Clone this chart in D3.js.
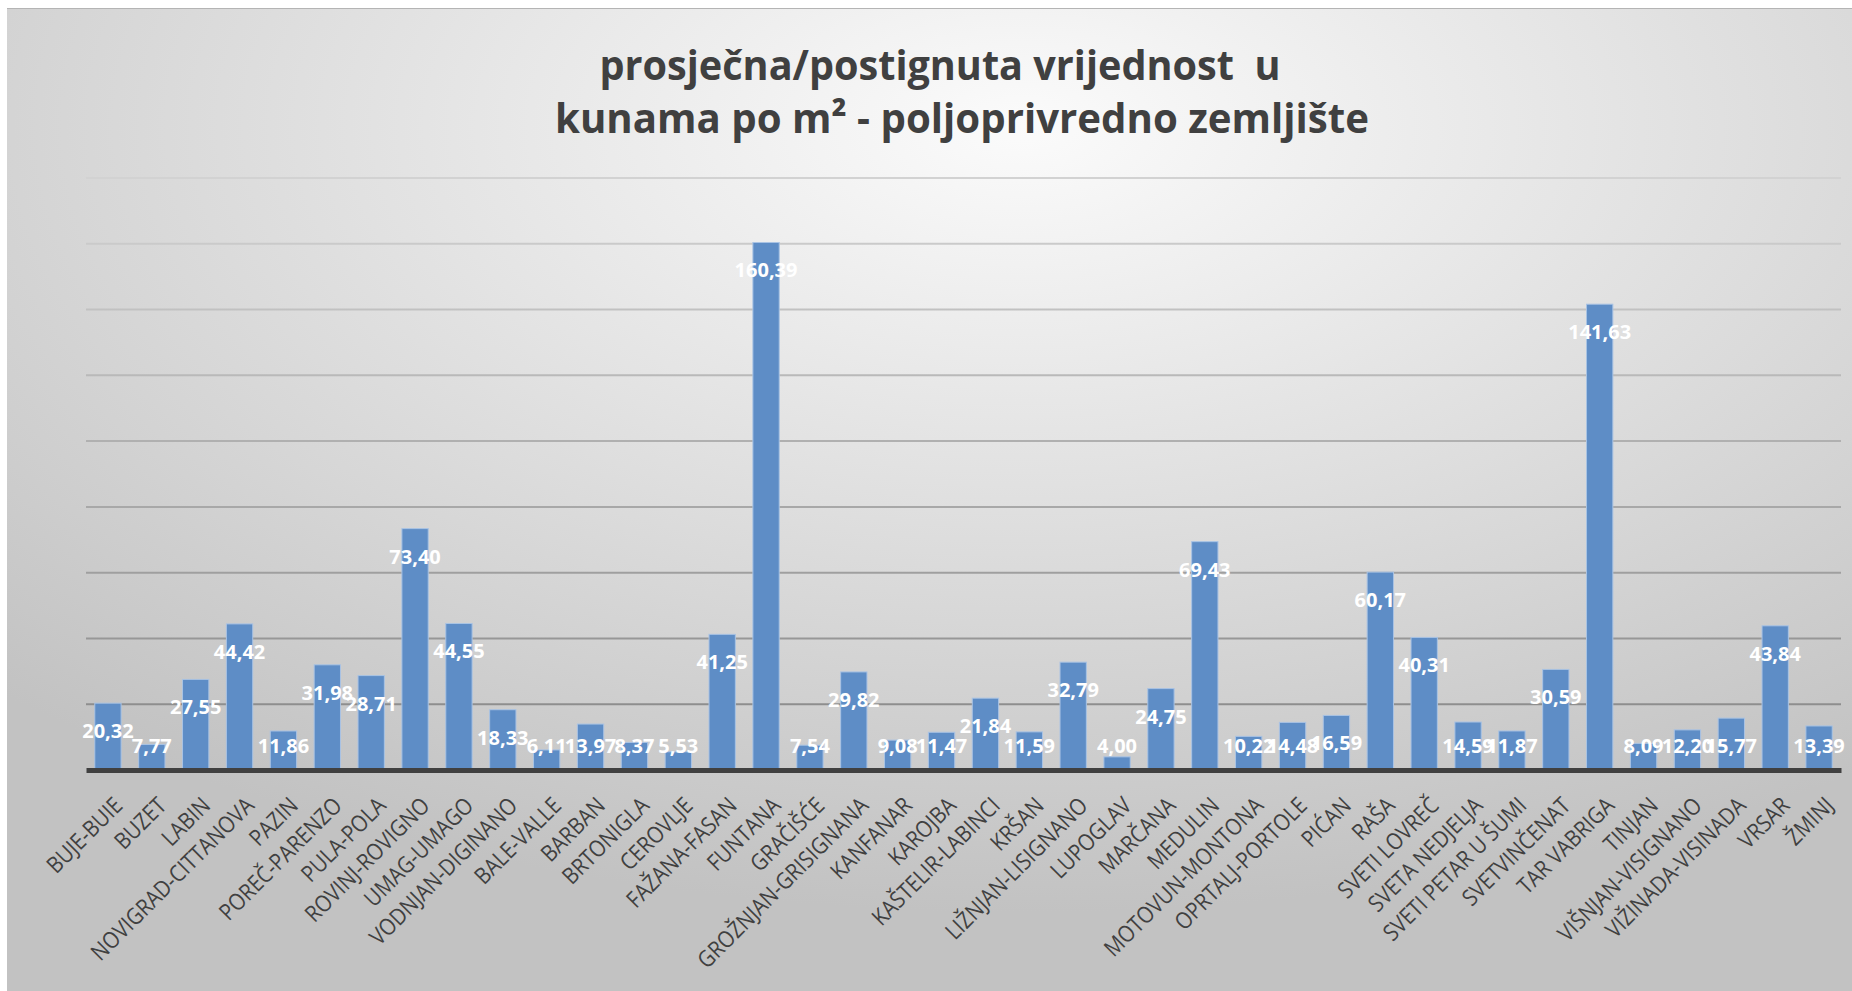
<!DOCTYPE html>
<html>
<head>
<meta charset="utf-8">
<script src="https://cdn.jsdelivr.net/npm/d3@7"></script>
<style>
  body { margin: 0; background: #fff; }
  svg { display: block; }
</style>
</head>
<body>
<div id="chart"></div>
<script>
// chart data
const municipalities = [
    "BUJE-BUIE", "BUZET", "LABIN", "NOVIGRAD-CITTANOVA", "PAZIN", "POREČ-PARENZO",
    "PULA-POLA", "ROVINJ-ROVIGNO", "UMAG-UMAGO", "VODNJAN-DIGINANO", "BALE-VALLE",
    "BARBAN", "BRTONIGLA", "CEROVLJE", "FAŽANA-FASAN", "FUNTANA", "GRAČIŠĆE",
    "GROŽNJAN-GRISIGNANA", "KANFANAR", "KAROJBA", "KAŠTELIR-LABINCI", "KRŠAN",
    "LIŽNJAN-LISIGNANO", "LUPOGLAV", "MARČANA", "MEDULIN", "MOTOVUN-MONTONA",
    "OPRTALJ-PORTOLE", "PIĆAN", "RAŠA", "SVETI LOVREČ", "SVETA NEDJELJA",
    "SVETI PETAR U ŠUMI", "SVETVINČENAT", "TAR VABRIGA", "TINJAN",
    "VIŠNJAN-VISIGNANO", "VIŽINADA-VISINADA", "VRSAR", "ŽMINJ"
];
const pricePerM2 = [
    20.32, 7.77, 27.55, 44.42, 11.86, 31.98,
    28.71, 73.40, 44.55, 18.33, 6.11,
    13.97, 8.37, 5.53, 41.25, 160.39, 7.54,
    29.82, 9.08, 11.47, 21.84, 11.59,
    32.79, 4.00, 24.75, 69.43, 10.22,
    14.48, 16.59, 60.17, 40.31, 14.59,
    11.87, 30.59, 141.63, 8.09,
    12.20, 15.77, 43.84, 13.39
];
const gridTicks = [0, 20, 40, 60, 80, 100, 120, 140, 160, 180];
const titleLines = ["prosječna/postignuta vrijednost  u", "kunama po m² - poljoprivredno zemljište"];

const WIDTH = 1852;
const HEIGHT = 991;
const margin = {top: 178, right: 11, bottom: 221, left: 86};
const width = WIDTH - margin.left - margin.right;
const height = HEIGHT - margin.top - margin.bottom;

const svg = d3.select("#chart").append("svg")
    .attr("width", WIDTH)
    .attr("height", HEIGHT);

// background gradient
const defs = svg.append("defs");
const grad = defs.append("radialGradient")
    .attr("id", "bg")
    .attr("cx", "55%").attr("cy", "12%")
    .attr("r", "80%");
grad.append("stop").attr("offset", "0%").attr("stop-color", "#fbfbfb");
grad.append("stop").attr("offset", "100%").attr("stop-color", "#c2c2c2");

svg.append("rect")
    .attr("x", 7).attr("y", 8)
    .attr("width", WIDTH - 7).attr("height", HEIGHT - 8)
    .attr("fill", "url(#bg)");
svg.append("line")
    .attr("x1", 7).attr("x2", WIDTH).attr("y1", 8.5).attr("y2", 8.5)
    .attr("stroke", "#b4b4b4").attr("stroke-width", 1);

// title
const title = svg.append("text")
    .attr("fill", "#404040")
    .style("white-space", "pre")
    .style("font-family", "'Open Sans', sans-serif")
    .style("font-weight", "bold")
    .style("font-size", "42px");
title.append("tspan").attr("x", 940).attr("y", 80)
    .attr("text-anchor", "middle")
    .attr("textLength", 681).attr("lengthAdjust", "spacingAndGlyphs")
    .text(titleLines[0]);
title.append("tspan").attr("x", 962).attr("y", 133)
    .attr("text-anchor", "middle")
    .attr("textLength", 814).attr("lengthAdjust", "spacingAndGlyphs")
    .text(titleLines[1]);

const g = svg.append("g")
    .attr("transform", "translate(" + margin.left + "," + margin.top + ")");

// scales
const x = d3.scaleBand()
    .domain(municipalities)
    .range([0, width])
    .paddingInner(0.4)
    .paddingOuter(0.2);

const y = d3.scaleLinear()
    .domain([0, 180])
    .range([height, 0]);

// gridlines, darker towards the bottom
const gridColor = d3.scaleLinear().domain([180, 20]).range(["#d2d2d2", "#8e8e8e"]);
g.append("g")
    .attr("class", "grid")
    .selectAll("line")
    .data(gridTicks.filter(d => d > 0))
    .join("line")
    .attr("x1", 0).attr("x2", width)
    .attr("y1", d => y(d)).attr("y2", d => y(d))
    .attr("stroke", d => gridColor(d))
    .attr("stroke-width", 2);

// bars
g.selectAll(".bar")
    .data(pricePerM2)
    .join("rect")
    .attr("class", "bar")
    .attr("x", (d, i) => x(municipalities[i]))
    .attr("y", d => y(d))
    .attr("width", x.bandwidth())
    .attr("height", d => y(0) - y(d))
    .attr("fill", "#5e8dc6")
    .attr("stroke", "#a9c3e4")
    .attr("stroke-width", 1);

// x axis
const xAxis = d3.axisBottom(x).tickSize(0).tickPadding(0);
const axisG = g.append("g")
    .attr("class", "x-axis")
    .attr("transform", "translate(0," + height + ")")
    .call(xAxis);
axisG.select(".domain")
    .attr("stroke", "#404040")
    .attr("stroke-width", 5);
// narrow the labels a little, like the condensed original font
axisG.selectAll("text")
    .attr("fill", "#404040")
    .style("font-family", "'Open Sans', sans-serif")
    .style("font-size", "23px")
    .attr("text-anchor", "end")
    .attr("dy", "0")
    .attr("y", 0)
    .attr("transform", "translate(16,37) rotate(-45) scale(0.88,1)");

// data labels
const fmt = d => d.toFixed(2).replace(".", ",");
g.selectAll(".bar-label")
    .data(pricePerM2)
    .join("text")
    .attr("class", "bar-label")
    .attr("x", (d, i) => x(municipalities[i]) + x.bandwidth() / 2)
    .attr("y", d => Math.min(y(d) + 28, y(0) - 24))
    .attr("dy", "0.35em")
    .attr("text-anchor", "middle")
    .attr("fill", "#ffffff")
    .style("font-family", "'Open Sans', sans-serif")
    .style("font-weight", "bold")
    .style("font-size", "20px")
    .text(fmt);
</script>
</body>
</html>
